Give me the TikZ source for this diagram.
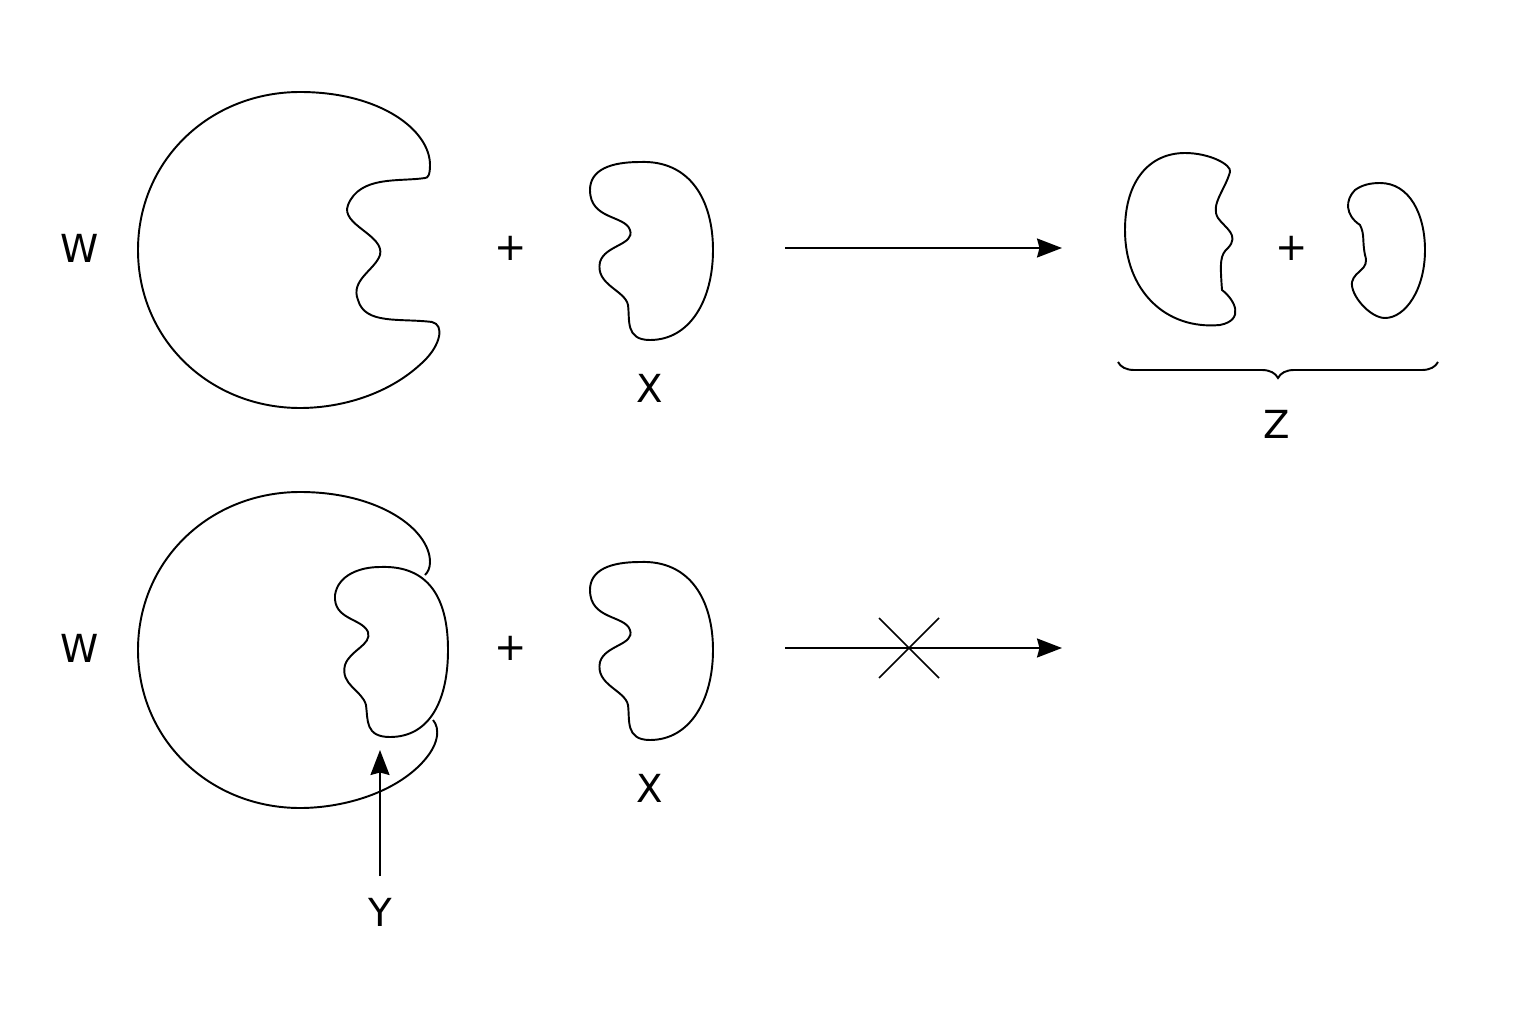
\documentclass[tikz,border=0pt]{standalone}
\usepackage{fontspec}
\setmainfont{DejaVu Sans}
\usetikzlibrary{arrows.meta,decorations.pathreplacing}
\begin{document}
\begin{tikzpicture}[x=0.02cm,y=-0.02cm,line width=1.1pt,
  lbl/.style={font=\fontsize{22}{26}\selectfont},
  arr/.style={-{Stealth[length=0.5cm,width=0.38cm,inset=0.05cm]}}]
\useasboundingbox (0,0) rectangle (1536,1024);
% top enzyme
\draw (425,178) .. controls (400,182) and (360,175) .. (348,205) .. controls (340,225) and (385,235) .. (380,255) .. controls (375,270) and (350,280) .. (358,300) .. controls (365,325) and (400,318) .. (432,322) .. controls (445,325) and (440,345) .. (425,360) .. controls (390,395) and (340,408) .. (300,408) .. controls (210,408) and (138,340) .. (138,250) .. controls (138,160) and (210,92) .. (300,92) .. controls (380,92) and (430,130) .. (430,165) .. controls (430,175) and (428,178) .. (425,178) -- cycle;
\node[lbl] (w1) at (80,248) {W};
\node[lbl] (p1) at (511,248) {+};
% substrate top
\draw (640,162) .. controls (690,160) and (713,200) .. (713,250) .. controls (713,300) and (690,340) .. (650,340) .. controls (625,340) and (630,320) .. (628,305) .. controls (625,290) and (595,285) .. (600,262) .. controls (605,245) and (635,245) .. (630,230) .. controls (625,215) and (590,220) .. (590,190) .. controls (590,170) and (610,162) .. (640,162) -- cycle;
\node[lbl] (x1) at (650,388) {X};
\coordinate (a1s) at (785,248);
\coordinate (a1e) at (1062,248);
\draw[arr] (a1s) -- (a1e);
% products
\draw (1185,153) .. controls (1210,153) and (1232,165) .. (1230,172) .. controls (1225,190) and (1210,205) .. (1218,218) .. controls (1225,228) and (1240,235) .. (1228,248) .. controls (1220,255) and (1220,262) .. (1222,290) .. controls (1235,300) and (1245,320) .. (1220,325) .. controls (1165,330) and (1125,290) .. (1125,230) .. controls (1125,180) and (1150,153) .. (1185,153) -- cycle;
\node[lbl] (p2) at (1292,248) {+};
\draw (1380,183) .. controls (1410,183) and (1425,215) .. (1425,250) .. controls (1425,290) and (1405,318) .. (1385,318) .. controls (1370,318) and (1350,295) .. (1352,282) .. controls (1355,270) and (1370,270) .. (1365,255) .. controls (1362,240) and (1365,235) .. (1360,225) .. controls (1345,215) and (1345,200) .. (1355,190) .. controls (1362,185) and (1370,183) .. (1380,183) -- cycle;
\coordinate (bl) at (1118,362);
\coordinate (br) at (1438,362);
\draw[decorate,decoration={brace,mirror,amplitude=0.32cm}] (bl) -- (br);
\node[lbl] (z) at (1277,424) {Z};
% bottom enzyme
\draw (425,575) .. controls (428,572) and (430,568) .. (430,562) .. controls (430,530) and (380,492) .. (300,492) .. controls (210,492) and (138,560) .. (138,650) .. controls (138,740) and (210,808) .. (300,808) .. controls (340,808) and (390,795) .. (420,765) .. controls (440,745) and (440,728) .. (433,720);
% inhibitor Y
\draw (380,567) .. controls (430,565) and (448,600) .. (448,650) .. controls (448,700) and (430,737) .. (390,737) .. controls (365,737) and (368,720) .. (366,705) .. controls (362,690) and (340,685) .. (345,665) .. controls (350,650) and (372,645) .. (368,632) .. controls (362,618) and (333,620) .. (335,595) .. controls (338,575) and (360,567) .. (380,567) -- cycle;
\node[lbl] (w2) at (80,648) {W};
\node[lbl] (p3) at (511,648) {+};
\draw (640,562) .. controls (690,560) and (713,600) .. (713,650) .. controls (713,700) and (690,740) .. (650,740) .. controls (625,740) and (630,720) .. (628,705) .. controls (625,690) and (595,685) .. (600,662) .. controls (605,645) and (635,645) .. (630,630) .. controls (625,615) and (590,620) .. (590,590) .. controls (590,570) and (610,562) .. (640,562) -- cycle;
\node[lbl] (x2) at (650,788) {X};
\node[lbl] (y) at (380,912) {Y};
\coordinate (ytip) at (380,750);
\draw[arr] (y.north) ++(0,-15) -- (ytip);
\coordinate (a2s) at (785,648);
\coordinate (a2e) at (1062,648);
\draw[arr] (a2s) -- (a2e);
\draw[line width=0.9pt] (879,618) -- (939,678) (879,678) -- (939,618);
\end{tikzpicture}
\end{document}
